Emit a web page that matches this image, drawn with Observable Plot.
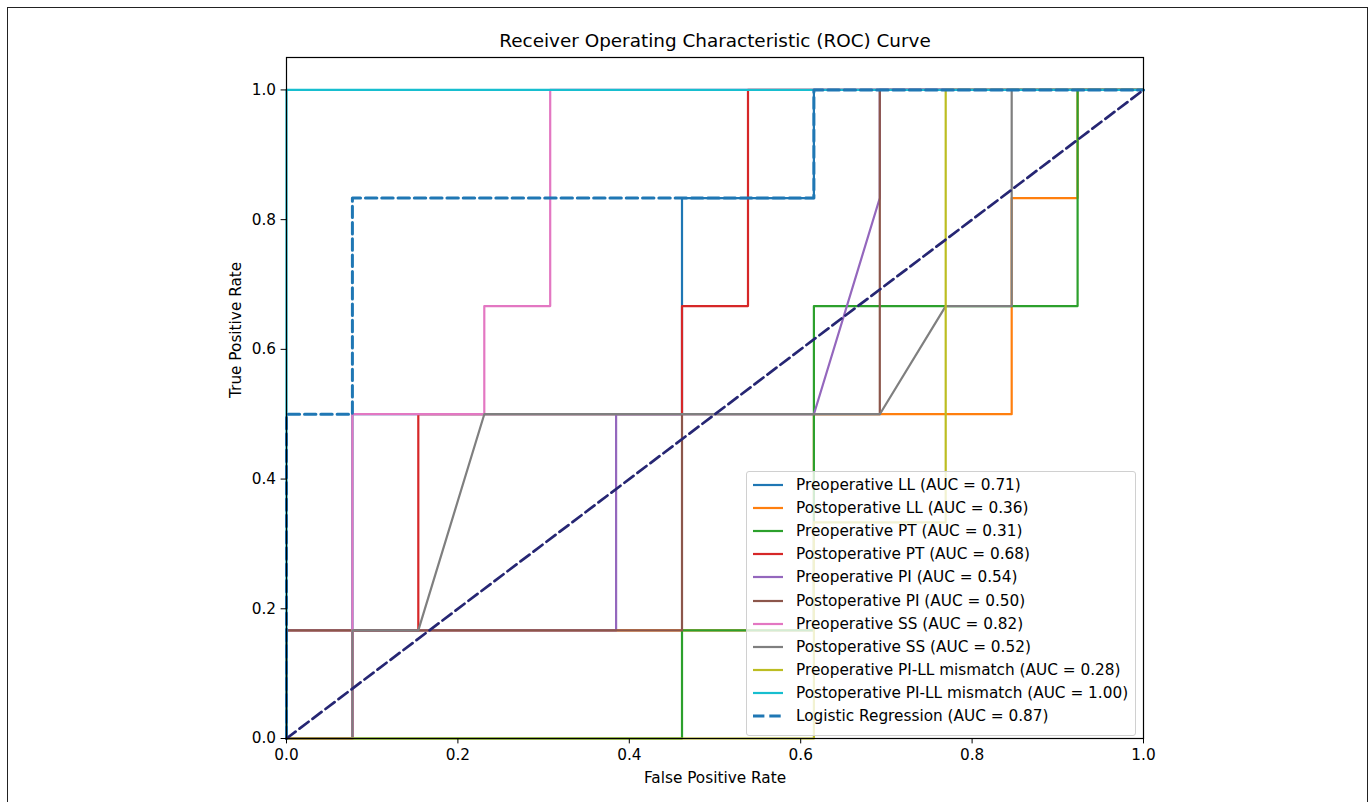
<!DOCTYPE html>
<html><head><meta charset="utf-8">
<script src="https://cdn.jsdelivr.net/npm/d3@7"></script>
<script src="https://cdn.jsdelivr.net/npm/@observablehq/plot@0.6"></script>
<style>
body{margin:0;background:#fff;font-family:"DejaVu Sans",sans-serif;}
#wrap{position:relative;width:1371px;height:802px;overflow:hidden;background:#fff;}
#border{position:absolute;left:7px;top:7px;width:1361px;height:900px;border:1.3px solid #222;box-sizing:border-box;pointer-events:none;}
#legend{position:absolute;left:746px;top:471px;width:390px;height:265px;box-sizing:border-box;background:rgba(255,255,255,0.8);border:1px solid #d0d0d0;border-radius:3px;}
.row{position:absolute;left:0;height:23px;display:flex;align-items:center;font-size:15.3px;color:#000;white-space:nowrap;}
.row svg{margin-left:5px;margin-right:12px;}
#chart{position:absolute;left:0;top:0;}
</style>
</head><body>
<div id="wrap"><div id="chart"></div><div id="legend"></div><div id="border"></div></div>
<script>
// ---- data ----
const seriesNames = [
  "Preoperative LL", "Postoperative LL", "Preoperative PT", "Postoperative PT",
  "Preoperative PI", "Postoperative PI", "Preoperative SS", "Postoperative SS",
  "Preoperative PI-LL mismatch", "Postoperative PI-LL mismatch", "Logistic Regression"
];
const seriesColors = ["#1f77b4","#ff7f0e","#2ca02c","#d62728","#9467bd","#8c564b","#e377c2","#7f7f7f","#bcbd22","#17becf","#1f77b4"];
const aucValues = [0.71, 0.36, 0.31, 0.68, 0.54, 0.50, 0.82, 0.52, 0.28, 1.00, 0.87];

const fprPreLL  = [0, 0.0769, 0.0769, 0.4615, 0.4615, 0.6154, 0.6154, 1];
const tprPreLL  = [0, 0, 0.5, 0.5, 0.8333, 0.8333, 1, 1];
const fprPostLL = [0, 0, 0.6154, 0.6154, 0.8462, 0.8462, 0.9231, 0.9231, 1];
const tprPostLL = [0, 0.1667, 0.1667, 0.5, 0.5, 0.8333, 0.8333, 1, 1];
const fprPrePT  = [0, 0.4615, 0.4615, 0.6154, 0.6154, 0.9231, 0.9231, 1];
const tprPrePT  = [0, 0, 0.1667, 0.1667, 0.6667, 0.6667, 1, 1];
const fprPostPT = [0, 0.0769, 0.0769, 0.1538, 0.1538, 0.4615, 0.4615, 0.5385, 0.5385, 1];
const tprPostPT = [0, 0, 0.1667, 0.1667, 0.5, 0.5, 0.6667, 0.6667, 1, 1];
const fprPrePI  = [0, 0, 0.3846, 0.3846, 0.6154, 0.6923, 0.6923, 1];
const tprPrePI  = [0, 0.1667, 0.1667, 0.5, 0.5, 0.8333, 1, 1];
const fprPostPI = [0, 0, 0.4615, 0.4615, 0.6923, 0.6923, 1];
const tprPostPI = [0, 0.1667, 0.1667, 0.5, 0.5, 1, 1];
const fprPreSS  = [0, 0.0769, 0.0769, 0.2308, 0.2308, 0.3077, 0.3077, 1];
const tprPreSS  = [0, 0, 0.5, 0.5, 0.6667, 0.6667, 1, 1];
const fprPostSS = [0, 0.0769, 0.0769, 0.1538, 0.2308, 0.6923, 0.7692, 0.8462, 0.8462, 1];
const tprPostSS = [0, 0, 0.1667, 0.1667, 0.5, 0.5, 0.6667, 0.6667, 1, 1];
const fprPreMis = [0, 0.6154, 0.6154, 0.7692, 0.7692, 1];
const tprPreMis = [0, 0, 0.3333, 0.3333, 1, 1];
const fprPostMis = [0, 0, 1];
const tprPostMis = [0, 1, 1];
const fprLogReg = [0, 0, 0.0769, 0.0769, 0.6154, 0.6154, 1];
const tprLogReg = [0, 0.5, 0.5, 0.8333, 0.8333, 1, 1];
const chanceX = [0, 1];
const chanceY = [0, 1];

const xTicks = [0, 0.2, 0.4, 0.6, 0.8, 1.0];
const yTicks = [0, 0.2, 0.4, 0.6, 0.8, 1.0];
const titleText = "Receiver Operating Characteristic (ROC) Curve";
const xLabel = "False Positive Rate";
const yLabel = "True Positive Rate";

const fprs = [fprPreLL, fprPostLL, fprPrePT, fprPostPT, fprPrePI, fprPostPI, fprPreSS, fprPostSS, fprPreMis, fprPostMis, fprLogReg];
const tprs = [tprPreLL, tprPostLL, tprPrePT, tprPostPT, tprPrePI, tprPostPI, tprPreSS, tprPostSS, tprPreMis, tprPostMis, tprLogReg];

const toPts = (xs, ys) => xs.map((x, i) => ({x, y: ys[i]}));

const DASH = "11.4,4.9";
const marks = [];
fprs.forEach((xs, i) => {
  const dashed = i === 10;
  marks.push(Plot.line(toPts(xs, tprs[i]), {
    x: "x", y: "y", stroke: seriesColors[i],
    strokeWidth: dashed ? 3.0 : 2.2,
    strokeDasharray: dashed ? DASH : null,
    strokeLinejoin: "round"
  }));
});
marks.push(Plot.line(toPts(chanceX, chanceY), {x: "x", y: "y", stroke: "#262673", strokeWidth: 2.7, strokeDasharray: DASH}));
marks.push(Plot.frame({stroke: "#000", strokeWidth: 1.2}));
marks.push(Plot.axisX({ticks: xTicks, tickFormat: d3.format(".1f"), tickSize: 5.4, tickPadding: 5, fontSize: 15.3, label: null}));
marks.push(Plot.axisY({ticks: yTicks, tickFormat: d3.format(".1f"), tickSize: 5.4, tickPadding: 5, fontSize: 15.3, label: null}));
marks.push(Plot.text([titleText], {text: d => d, frameAnchor: "top", lineAnchor: "middle", dy: -16, fontSize: 18.4, fill: "#000"}));
marks.push(Plot.text([xLabel], {text: d => d, frameAnchor: "bottom", lineAnchor: "middle", dy: 40, fontSize: 15.3, fill: "#000"}));
marks.push(Plot.text([yLabel], {text: d => d, frameAnchor: "left", lineAnchor: "middle", dx: -50, rotate: -90, fontSize: 15.3, fill: "#000"}));

const chart = Plot.plot({
  width: 1371, height: 802,
  marginLeft: 286, marginRight: 228, marginTop: 57, marginBottom: 64,
  x: {domain: [0, 1]},
  y: {domain: [0, 1.05]},
  style: {fontFamily: "DejaVu Sans, sans-serif", color: "#000", background: "transparent", overflow: "visible"},
  marks
});
document.getElementById("chart").appendChild(chart);

// legend (HTML overlay)
const legend = document.getElementById("legend");
seriesNames.forEach((name, i) => {
  const row = document.createElement("div");
  row.className = "row";
  row.style.top = (1.5 + i * 23.1) + "px";
  const dashed = i === 10;
  row.innerHTML = `<svg width="32" height="6"><line x1="1" y1="3" x2="31" y2="3" stroke="${seriesColors[i]}" stroke-width="${dashed ? 3.0 : 2.2}" ${dashed ? 'stroke-dasharray="' + DASH + '"' : ''}/></svg><span>${name} (AUC = ${aucValues[i].toFixed(2)})</span>`;
  legend.appendChild(row);
});
</script>
</body></html>
